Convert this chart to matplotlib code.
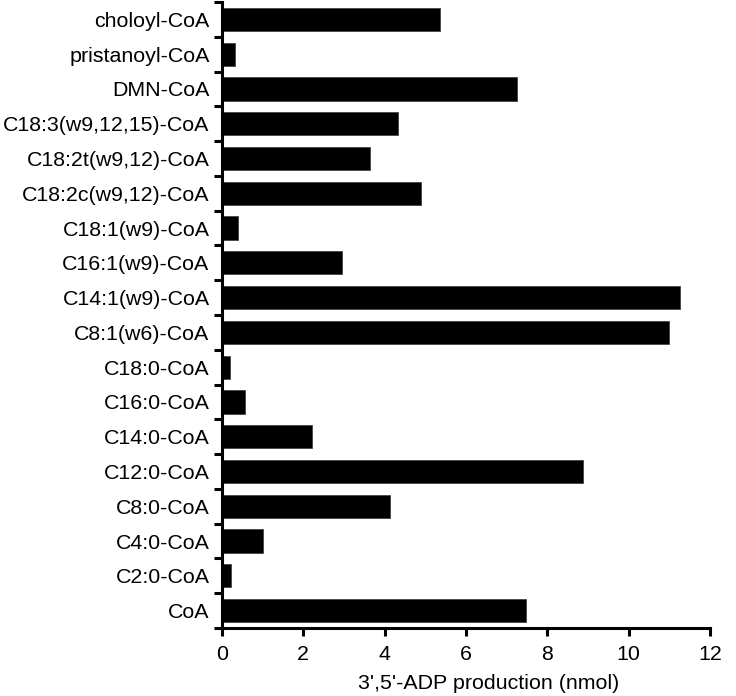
import numpy as np
import matplotlib.pyplot as plt

plt.rcParams['font.family'] = ['Liberation Sans', 'DejaVu Sans']

# top to bottom as in the figure
substrates = ["choloyl-CoA", "pristanoyl-CoA", "DMN-CoA", "C18:3(w9,12,15)-CoA",
              "C18:2t(w9,12)-CoA", "C18:2c(w9,12)-CoA", "C18:1(w9)-CoA",
              "C16:1(w9)-CoA", "C14:1(w9)-CoA", "C8:1(w6)-CoA", "C18:0-CoA",
              "C16:0-CoA", "C14:0-CoA", "C12:0-CoA", "C8:0-CoA", "C4:0-CoA",
              "C2:0-CoA", "CoA"]
adp_nmol = [5.36, 0.33, 7.25, 4.32, 3.64, 4.89, 0.39, 2.96, 11.27, 11.0,
            0.20, 0.57, 2.22, 8.87, 4.14, 1.0, 0.23, 7.48]

n = len(substrates)
ypos = np.arange(n)[::-1]
fs = 15.4

fig = plt.figure(figsize=(7.36, 6.96), dpi=100)
ax = fig.add_axes([222/736, 1-628/696, (710-222)/736, (628-2)/696])

ax.barh(ypos, adp_nmol, height=0.67, color='black', edgecolor='#444444', linewidth=0.6)

ax.set_xlim(0, 12)
ax.set_ylim(-0.5, n-0.5)
ax.set_xticks(np.arange(0, 13, 2))

# labels at bar centres, ticks at the boundaries
ax.set_yticks(ypos)
ax.set_yticklabels(substrates)
ax.set_yticks(np.arange(-0.5, n, 1.0), minor=True)
ax.tick_params(axis='y', which='major', length=0, pad=9, labelsize=fs)
ax.tick_params(axis='y', which='minor', length=6, width=2.2)
ax.tick_params(axis='x', length=5.5, width=2.2, pad=7, labelsize=fs)

for s in ['top', 'right']:
    ax.spines[s].set_visible(False)
for s in ['left', 'bottom']:
    ax.spines[s].set_linewidth(2.2)

ax.set_xlabel("3',5'-ADP production (nmol)", fontsize=fs)
ax.xaxis.set_label_coords(0.547, -0.089)
ax.xaxis.label.set_va('center')

fig.savefig("out.png", dpi=100)
